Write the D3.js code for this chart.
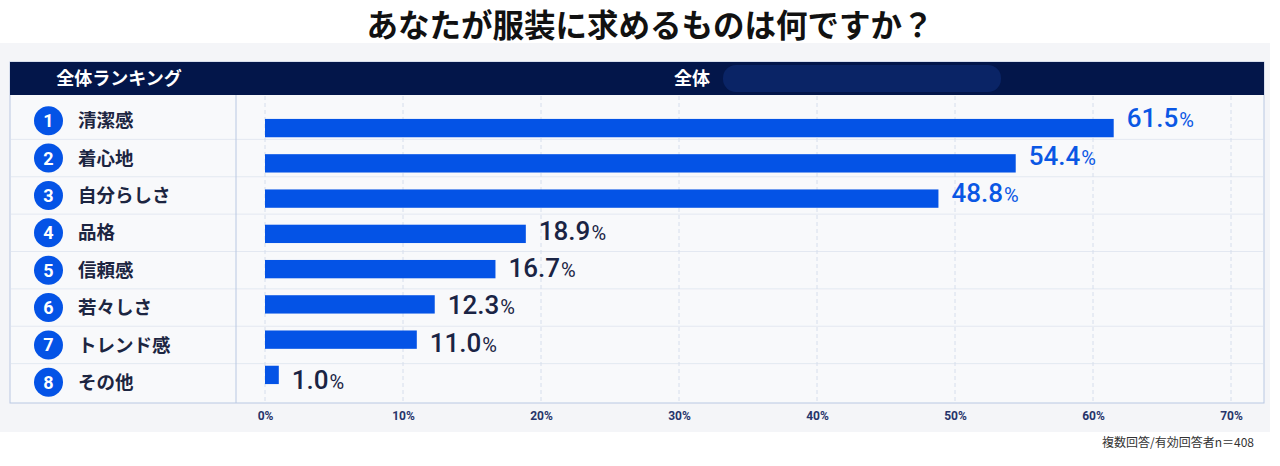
<!DOCTYPE html>
<html>
<head>
<meta charset="utf-8">
<script src="https://cdn.jsdelivr.net/npm/d3@7"></script>
<style>
  body { margin: 0; background: #fff; }
  svg { display: block; }
</style>
</head>
<body>
<div id="chart"></div>
<script>
// data
const categories = ["清潔感", "着心地", "自分らしさ", "品格", "信頼感", "若々しさ", "トレンド感", "その他"];
const values = [61.5, 54.4, 48.8, 18.9, 16.7, 12.3, 11.0, 1.0];
const ranks = [1, 2, 3, 4, 5, 6, 7, 8];
const tickValues = [0, 10, 20, 30, 40, 50, 60, 70];
const titleText = "あなたが服装に求めるものは何ですか？";
const leftHeader = "全体ランキング";
const rightHeader = "全体";
const noteText = "複数回答/有効回答者n＝408";

const width = 1280, height = 466;
const table = { left: 10, right: 1264, top: 62, head: 95, bottom: 403, divider: 236 };
const jp = "'Noto Sans CJK JP', 'Noto Sans', sans-serif";

const rows = categories.map((c, i) => ({ name: c, value: values[i], rank: ranks[i] }));

const svg = d3.select("#chart")
    .append("svg")
    .attr("width", width)
    .attr("height", height);

// Scales
const x = d3.scaleLinear()
    .domain([0, 70])
    .range([265, 1231]);

const y = d3.scaleBand()
    .domain(categories)
    .range([102, 401]);

const barY = d3.scaleBand()
    .domain(categories)
    .range([102, 401])
    .padding(0.48);

// background panel
svg.append("rect")
    .attr("x", 0).attr("y", 43)
    .attr("width", 1270).attr("height", 389)
    .attr("fill", "#f4f5f8");

// title
svg.append("text")
    .attr("x", 650)
    .attr("y", 37)
    .attr("text-anchor", "middle")
    .attr("font-family", jp)
    .attr("font-weight", 700)
    .attr("font-size", 31.5)
    .attr("fill", "#111")
    .text(titleText);

// table body
svg.append("rect")
    .attr("x", table.left).attr("y", table.top)
    .attr("width", table.right - table.left).attr("height", table.bottom - table.top)
    .attr("fill", "#f8f9fb")
    .attr("stroke", "#b9c8e2");

// header
svg.append("rect")
    .attr("x", table.left).attr("y", table.top)
    .attr("width", table.right - table.left).attr("height", table.head - table.top)
    .attr("fill", "#03164a");

svg.append("rect")
    .attr("x", 723).attr("y", 65)
    .attr("width", 278).attr("height", 27)
    .attr("rx", 13)
    .attr("fill", "#0a2466");

svg.append("text")
    .attr("x", 119)
    .attr("y", 78.5)
    .attr("dy", "0.35em")
    .attr("text-anchor", "middle")
    .attr("font-family", jp)
    .attr("font-weight", 700)
    .attr("font-size", 18)
    .attr("fill", "#fff")
    .text(leftHeader);

svg.append("text")
    .attr("x", 692)
    .attr("y", 78.5)
    .attr("dy", "0.35em")
    .attr("text-anchor", "middle")
    .attr("font-family", jp)
    .attr("font-weight", 700)
    .attr("font-size", 18)
    .attr("fill", "#fff")
    .text(rightHeader);

// row separators
svg.append("g")
    .selectAll("line")
    .data(categories.slice(1))
    .join("line")
    .attr("x1", table.left + 1).attr("x2", table.right - 1)
    .attr("y1", d => y(d)).attr("y2", d => y(d))
    .attr("stroke", "#e3e8f1");

// gridlines
svg.append("g")
    .selectAll("line")
    .data(tickValues)
    .join("line")
    .attr("x1", d => x(d)).attr("x2", d => x(d))
    .attr("y1", table.head + 1).attr("y2", table.bottom)
    .attr("stroke", "#d6deec")
    .attr("stroke-dasharray", "4,3");

// column divider
svg.append("line")
    .attr("x1", table.divider).attr("x2", table.divider)
    .attr("y1", table.head).attr("y2", table.bottom)
    .attr("stroke", "#b9c8e2");

// rank badges + labels
const rowG = svg.append("g")
    .selectAll("g")
    .data(rows)
    .join("g")
    .attr("transform", d => `translate(0,${y(d.name) + y.bandwidth() / 2})`);

rowG.append("circle")
    .attr("cx", 48.5)
    .attr("r", 14.5)
    .attr("fill", "#0453e6");

rowG.append("text")
    .attr("x", 48.5)
    .attr("dy", "0.36em")
    .attr("text-anchor", "middle")
    .attr("font-family", "Roboto, sans-serif")
    .attr("font-weight", 700)
    .attr("font-size", 18)
    .attr("fill", "#fff")
    .text(d => d.rank);

rowG.append("text")
    .attr("x", 78)
    .attr("dy", "0.36em")
    .attr("font-family", jp)
    .attr("font-weight", 700)
    .attr("font-size", 18.5)
    .attr("fill", "#1c2541")
    .text(d => d.name);

// bars
svg.append("g")
    .selectAll("rect")
    .data(rows)
    .join("rect")
    .attr("x", x(0))
    .attr("y", d => barY(d.name))
    .attr("width", d => x(d.value) - x(0))
    .attr("height", barY.bandwidth())
    .attr("fill", "#0453e6");

// value labels
const valueText = svg.append("g")
    .selectAll("text")
    .data(rows)
    .join("text")
    .attr("x", d => x(d.value) + 13)
    .attr("y", d => y(d.name) + y.bandwidth() / 2 + 1)
    .attr("dy", "0.36em")
    .attr("font-family", "Roboto, sans-serif")
    .attr("font-weight", 500)
    .attr("fill", (d, i) => i < 3 ? "#0a57e4" : "#1a2444");

valueText.append("tspan")
    .attr("font-size", 26)
    .text(d => d.value.toFixed(1));

valueText.append("tspan")
    .attr("font-size", 20)
    .attr("font-weight", 400)
    .attr("dx", 1)
    .text("%");

// axis
const xAxis = svg.append("g")
    .attr("transform", `translate(0,${table.bottom + 6})`)
    .call(d3.axisBottom(x).tickValues(tickValues).tickFormat(d => d + "%").tickSize(0).tickPadding(2));

xAxis.select(".domain").remove();
xAxis.selectAll("text")
    .attr("font-family", "Roboto, sans-serif")
    .attr("font-weight", 700)
    .attr("font-size", 12)
    .attr("fill", "#27346a");

// footnote
svg.append("text")
    .attr("x", 1254)
    .attr("y", 443)
    .attr("dy", "0.35em")
    .attr("text-anchor", "end")
    .attr("font-family", jp)
    .attr("font-size", 12)
    .attr("fill", "#333")
    .text(noteText);
</script>
</body>
</html>
